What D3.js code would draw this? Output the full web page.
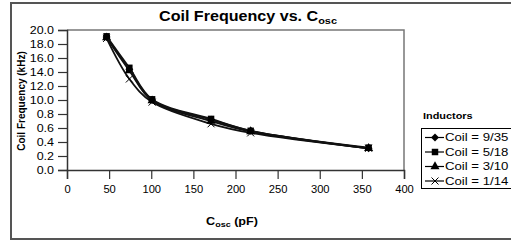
<!DOCTYPE html>
<html>
<head>
<meta charset="utf-8">
<script src="https://cdn.jsdelivr.net/npm/d3@7"></script>
<style>
  body { margin: 0; background: #fff; }
  text { font-family: Arial, "Liberation Sans", sans-serif; fill: #000; }
</style>
</head>
<body>
<div id="chart"></div>
<script>
// capacitor values (pF)
var cosc = [47, 74, 101, 171, 218, 358];
var seriesNames = ['Coil = 9/35', 'Coil = 5/18', 'Coil = 3/10', 'Coil = 1/14'];
var markers = ['diamond', 'square', 'triangle', 'cross'];
var coil935 = [19.0, 14.4, 10.0, 7.2, 5.6, 3.1];
var coil518 = [19.1, 14.6, 10.1, 7.3, 5.6, 3.2];
var coil310 = [18.9, 14.2, 9.9, 7.0, 5.5, 3.1];
var coil114 = [18.8, 13.0, 9.7, 6.6, 5.3, 3.1];
var xTicks = [0, 50, 100, 150, 200, 250, 300, 350, 400];
var yTicks = [0, 2, 4, 6, 8, 10, 12, 14, 16, 18, 20];
// labels as printed on the original axis
var yTickLabels = ['0.0', '0.2', '0.4', '0.6', '0.8', '10.0', '12.0', '14.0', '16.0', '18.0', '20.0'];

var width = 511, height = 242;
var plot = {left: 67, right: 404, top: 30, bottom: 170};

var svg = d3.select('#chart').append('svg')
  .attr('width', width)
  .attr('height', height);

// the original picture is stretched sideways, so text gets a wide look
function widen(sel, k) {
  sel.each(function() {
    var t = d3.select(this);
    var x0 = +t.attr('x') || 0;
    t.attr('x', x0 / k).attr('transform', 'scale(' + k + ',1)');
  });
}

// outer chart border
svg.append('rect')
  .attr('x', 11).attr('y', 3)
  .attr('width', 520).attr('height', 236)
  .attr('fill', 'none')
  .attr('stroke', '#555').attr('stroke-width', 2);

var x = d3.scaleLinear().domain([0, 400]).range([plot.left, plot.right]);
var y = d3.scaleLinear().domain([0, 20]).range([plot.bottom, plot.top]);

// plot area frame (top + right)
svg.append('path')
  .attr('d', 'M' + plot.left + ',' + plot.top + 'H' + plot.right + 'V' + plot.bottom)
  .attr('fill', 'none')
  .attr('stroke', '#777').attr('stroke-width', 1.5);

var xAxis = svg.append('g')
  .attr('transform', 'translate(0,' + plot.bottom + ')')
  .call(d3.axisBottom(x).tickValues(xTicks).tickSize(9).tickPadding(7)
    .tickFormat(d3.format('d')));

var yAxis = svg.append('g')
  .attr('transform', 'translate(' + plot.left + ',0)')
  .call(d3.axisLeft(y).tickValues(yTicks).tickSize(9).tickPadding(4)
    .tickFormat(function(d, i) { return yTickLabels[i]; }));

[xAxis, yAxis].forEach(function(g) {
  g.select('.domain').attr('stroke', '#333').attr('stroke-width', 1.5);
  g.selectAll('.tick line').attr('stroke', '#333').attr('stroke-width', 1.2);
  g.selectAll('.tick text').style('font-size', '10px').attr('fill', '#111');
});
widen(xAxis.selectAll('.tick text'), 1.12);
widen(yAxis.selectAll('.tick text'), 1.25);

// title
var title = svg.append('text')
  .attr('x', 248).attr('y', 21)
  .attr('text-anchor', 'middle')
  .style('font-size', '14px').style('font-weight', 'bold');
title.append('tspan').text('Coil Frequency vs. C');
title.append('tspan').text('osc').attr('dy', 3.5).style('font-size', '9.5px');
widen(title, 1.15);

// axis titles
var xt = svg.append('text')
  .attr('x', 232).attr('y', 225)
  .attr('text-anchor', 'middle')
  .style('font-size', '10.5px').style('font-weight', 'bold');
xt.append('tspan').text('C');
xt.append('tspan').text('osc').attr('dy', 2.5).style('font-size', '7.5px');
xt.append('tspan').text(' (pF)').attr('dy', -2.5);
widen(xt, 1.2);

svg.append('text')
  .attr('transform', 'translate(25,101) rotate(-90)')
  .attr('text-anchor', 'middle')
  .style('font-size', '10px').style('font-weight', 'bold')
  .text('Coil Frequency (kHz)');

// series
var allSeries = [coil935, coil518, coil310, coil114];
var line = d3.line()
  .x(function(d, i) { return x(cosc[i]); })
  .y(function(d) { return y(d); })
  .curve(d3.curveCatmullRom.alpha(0.5));

var symbolFor = {
  diamond: d3.symbol().type(d3.symbolDiamond2).size(40),
  square: d3.symbol().type(d3.symbolSquare).size(42),
  triangle: d3.symbol().type(d3.symbolTriangle).size(36)
};

function drawMarker(g, type, cx, cy) {
  if (type === 'cross') {
    g.append('path')
      .attr('d', 'M' + (cx - 3.5) + ',' + (cy - 3.5) + 'L' + (cx + 3.5) + ',' + (cy + 3.5) +
                 'M' + (cx - 3.5) + ',' + (cy + 3.5) + 'L' + (cx + 3.5) + ',' + (cy - 3.5))
      .attr('stroke', '#000').attr('stroke-width', 1).attr('fill', 'none');
  } else {
    g.append('path')
      .attr('d', symbolFor[type]())
      .attr('transform', 'translate(' + cx + ',' + cy + ')')
      .attr('fill', '#000');
  }
}

// draw in reverse so 9/35 and 5/18 sit on top
for (var s = allSeries.length - 1; s >= 0; s--) {
  var g = svg.append('g').attr('class', 'series');
  g.append('path')
    .attr('d', line(allSeries[s]))
    .attr('fill', 'none')
    .attr('stroke', '#111').attr('stroke-width', 1.8);
  allSeries[s].forEach(function(v, i) {
    drawMarker(g, markers[s], x(cosc[i]), y(v));
  });
}

// legend
var lt = svg.append('text')
  .attr('x', 423).attr('y', 119)
  .style('font-size', '9.5px').style('font-weight', 'bold')
  .text('Inductors');
widen(lt, 1.15);

svg.append('rect')
  .attr('x', 421.5).attr('y', 128.5)
  .attr('width', 100).attr('height', 60)
  .attr('fill', '#fff')
  .attr('stroke', '#000').attr('stroke-width', 1);

seriesNames.forEach(function(name, i) {
  var ly = 137.5 + i * 14.5;
  var lg = svg.append('g');
  lg.append('line')
    .attr('x1', 425).attr('x2', 444)
    .attr('y1', ly).attr('y2', ly)
    .attr('stroke', '#000').attr('stroke-width', 1.2);
  drawMarker(lg, markers[i], 435, ly);
  var txt = lg.append('text')
    .attr('x', 445).attr('y', ly + 3.8)
    .style('font-size', '11px')
    .text(name);
  widen(txt, 1.2);
});
</script>
</body>
</html>
